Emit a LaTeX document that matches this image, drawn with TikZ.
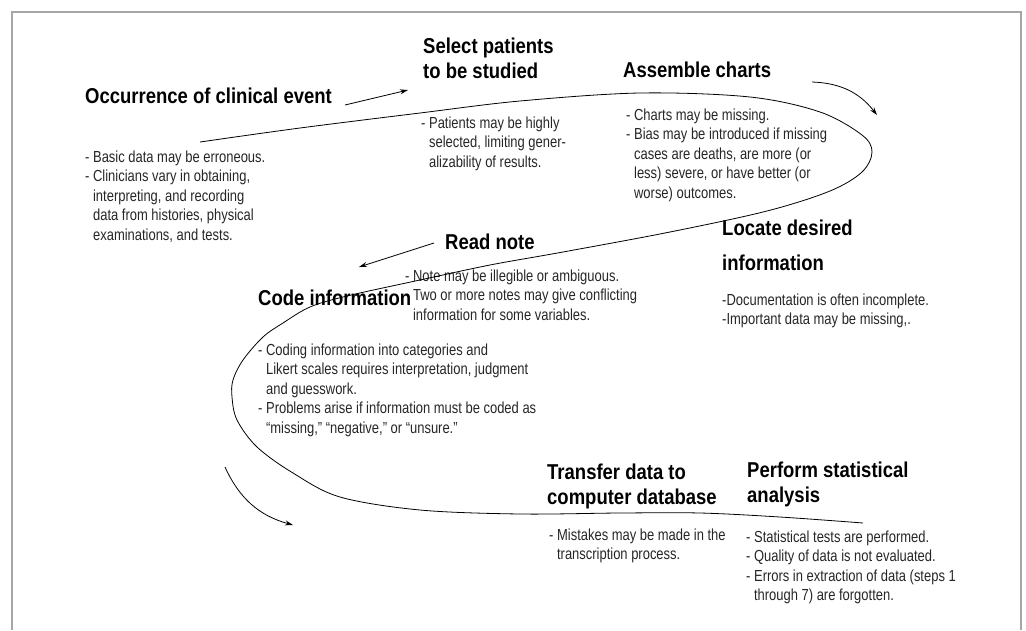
\documentclass[tikz,border=0pt]{standalone}
\usepackage{fontspec}
\setmainfont{Liberation Sans}[FakeStretch=0.81]
\newfontfamily\headfont{Liberation Sans}[FakeStretch=0.86]
\usetikzlibrary{arrows.meta}
\newcommand{\ind}{\hphantom{- }}

\begin{document}
\begin{tikzpicture}[x=1pt,y=-1pt,>={Stealth[length=8pt,width=5pt]}]
  \useasboundingbox (0,0) rectangle (1026,630);
  \draw[gray!70,line width=1.2pt] (12,630) -- (12,12) -- (1021,12) -- (1021,630);

  %% nodes sit on the baseline of their last line
  \tikzstyle{every node}=[inner sep=0pt,anchor=base west,align=left]
  \tikzstyle{heading}=[font=\headfont\bfseries\fontsize{21.5}{25}\selectfont]
  \tikzstyle{remark}=[text=black!85,font=\fontsize{16}{19.5}\selectfont]

%% steps and their remarks
  \node[heading] (occ)       at (85,103)  {Occurrence of clinical event};
  \node[remark]  (occtxt)    at (85,240)  {- Basic data may be erroneous.\\- Clinicians vary in obtaining,\\\ind interpreting, and recording\\\ind data from histories, physical\\\ind examinations, and tests.};
  \node[heading] (select)    at (423,78)  {Select patients\\to be studied};
  \node[remark]  (selecttxt) at (421,167) {- Patients may be highly\\\ind selected, limiting gener-\\\ind alizability of results.};
  \node[heading] (assemble)  at (623,77)  {Assemble charts};
  \node[remark]  (assembletxt) at (626,198) {- Charts may be missing.\\- Bias may be introduced if missing\\\ind cases are deaths, are more (or\\\ind less) severe, or have better (or\\\ind worse) outcomes.};
  \node[heading] (readnote)  at (445,249) {Read note};
  \node[remark]  (readtxt)   at (405,320) {- Note may be illegible or ambiguous.\\\ind Two or more notes may give conflicting\\\ind information for some variables.};
  \node[heading] (locate)    at (722,270) {Locate desired\\[10pt]information};
  \node[remark]  (locatetxt) at (722,324.5) {-Documentation is often incomplete.\\-Important data may be missing,.};
  \node[heading] (code)      at (258,305) {Code information};
  \node[remark]  (codetxt)   at (258,433) {- Coding information into categories and\\\ind Likert scales requires interpretation, judgment\\\ind and guesswork.\\- Problems arise if information must be coded as\\\ind “missing,” “negative,” or “unsure.”};
  \node[heading] (transfer)  at (547,504) {Transfer data to\\computer database};
  \node[remark]  (transfertxt) at (549,559.5) {- Mistakes may be made in the\\\ind transcription process.};
  \node[heading] (perform)   at (747,502) {Perform statistical\\analysis};
  \node[remark]  (performtxt) at (746,600.5) {- Statistical tests are performed.\\- Quality of data is not evaluated.\\- Errors in extraction of data (steps 1\\\ind through 7) are forgotten.};

%% the winding path
  \draw[line width=0.8pt] plot[smooth,tension=0.55] coordinates {
    (200,142) (300,128) (420,113) (520,101) (640,93) (750,97) (820,112)
    (862,135) (872,152) (862,172) (830,191) (767,211) (670,232) (563,252)
    (490,265) (420,280) (347,296) (310,307) (283,323) (263,337) (243,360)
    (233,380) (232,397) (237,420) (257,447) (293,473) (340,497) (420,510)
    (520,514) (620,513) (700,513) (780,517) (863,523)};

%% arrows
  \coordinate (occ-a)  at (345,105);  \coordinate (occ-b)  at (408,90);
  \coordinate (asm-a)  at (812,82);   \coordinate (asm-b)  at (877,115);
  \coordinate (note-a) at (434,243);  \coordinate (note-b) at (359,267);
  \coordinate (code-a) at (225,467);  \coordinate (code-b) at (293,525);
  \draw[->,line width=0.8pt] (occ-a) -- (occ-b);
  \draw[->,line width=0.8pt] (asm-a) to[bend left=25] (asm-b);
  \draw[->,line width=0.8pt] (note-a) -- (note-b);
  \draw[->,line width=0.8pt] (code-a) to[bend right=25] (code-b);
\end{tikzpicture}
\end{document}
